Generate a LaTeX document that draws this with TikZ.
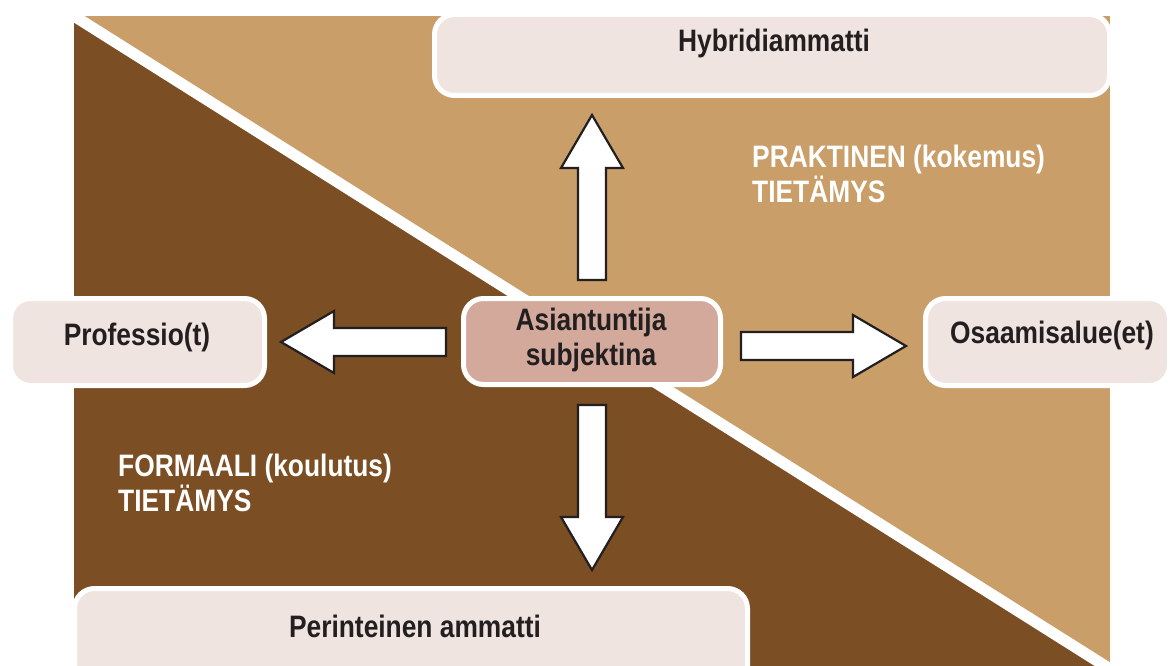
\documentclass[tikz,border=0pt]{standalone}
\usepackage{fontspec}
\setmainfont{Liberation Sans}[FakeStretch=0.85]
\definecolor{tanbg}{HTML}{C99E68}
\definecolor{brownbg}{HTML}{7B4E23}
\definecolor{boxfill}{HTML}{F0E4E0}
\definecolor{corefill}{HTML}{D2A99B}
\definecolor{ink}{HTML}{231F20}
\tikzset{
  box/.style={draw=white, line width=5pt, fill=boxfill, rounded corners=20pt, inner sep=0pt},
  corebox/.style={box, fill=corefill},
  label/.style={font=\fontsize{31}{35}\selectfont\bfseries, text=ink, inner sep=0pt},
  zone/.style={font=\fontsize{31}{35}\selectfont\bfseries, text=white, inner sep=0pt, align=left},
  arrowline/.style={fill=white, draw=ink, line width=2.2pt, line join=miter},
  blockarrow/.pic={\draw[arrowline] (0,-14) -- (112,-14) -- (112,-31) -- (165,0)
      -- (112,31) -- (112,14) -- (0,14) -- cycle;}
}
\begin{document}
\begin{tikzpicture}[x=1pt, y=-1pt]
\useasboundingbox (0,0) rectangle (1170,666);

% two knowledge zones split by a white diagonal
\begin{scope}
  \clip (74,16) rectangle (1110,666);
  \fill[tanbg] (74,16) rectangle (1110,666);
  \fill[brownbg] (74,16) -- (1110,669) -- (74,669) -- cycle;
  \draw[white, line width=11.25pt] (74,16) -- (1110,669);
\end{scope}

% zone captions (base anchor sits on the last line)
\node[zone, anchor=base west] (prak) at (752,202) {PRAKTINEN (kokemus)\\TIETÄMYS};
\node[zone, anchor=base west] (form) at (118,511) {FORMAALI (koulutus)\\TIETÄMYS};

% outer boxes
\node[box, minimum width=675pt, minimum height=81pt] (hyb) at (772,55) {};
\node[box, minimum width=254pt, minimum height=87pt] (prof) at (137.5,342) {};
\node[box, minimum width=244pt, minimum height=87pt] (osa) at (1047.5,342) {};
\node[box, minimum width=673pt, minimum height=99pt] (per) at (411,638) {};
\node[corebox, minimum width=257pt, minimum height=86pt] (core) at (592,341.5) {};

\node[label, anchor=base] (hybt) at (774,52) {Hybridiammatti};
\node[label, anchor=base] (proft) at (137,345) {Professio(t)};
\node[label, anchor=base] (osat) at (1052,343) {Osaamisalue(et)};
\node[label, anchor=base] (pert) at (415,637) {Perinteinen ammatti};
\node[label, anchor=base, align=center] (coret) at (591,365) {Asiantuntija\\subjektina};

% block arrows leading out from the centre
\pic[rotate=90]  (up)    at (592,280) {blockarrow};
\pic[rotate=180] (left)  at (446,342) {blockarrow};
\pic             (right) at (741,346) {blockarrow};
\pic[rotate=-90] (down)  at (592,405) {blockarrow};
\end{tikzpicture}
\end{document}
